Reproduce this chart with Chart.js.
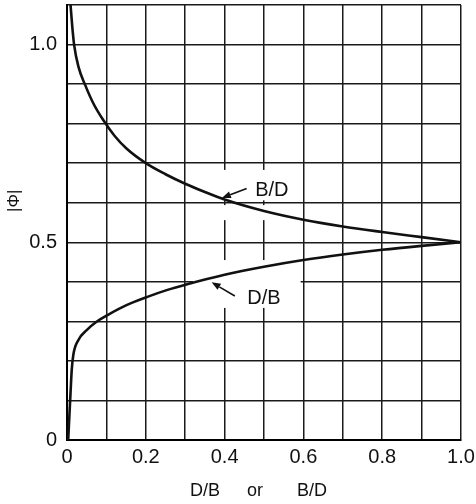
<!DOCTYPE html>
<html><head><meta charset="utf-8">
<script src="https://cdn.jsdelivr.net/npm/chart.js@4.4.1/dist/chart.umd.min.js"></script>
<style>html,body{margin:0;padding:0;background:#fff}#wrap{width:476px;height:504px}</style>
</head><body><div id="wrap"><canvas id="c" width="476" height="504"></canvas></div>
<script>
const bdX = [0.009,0.013,0.018,0.029,0.046,0.067,0.092,0.12,0.151,0.2,0.25,0.3,0.35,0.4,0.5,0.6,0.7,0.8,0.9,1.0];
const bdY = [1.1,1.05,1.0,0.944,0.898,0.851,0.809,0.77,0.737,0.700,0.672,0.648,0.627,0.608,0.579,0.557,0.540,0.526,0.513,0.5];
const dbX = [0.003,0.006,0.009,0.012,0.016,0.029,0.05,0.075,0.103,0.151,0.204,0.253,0.305,0.4,0.5,0.6,0.7,0.8,0.9,1.0];
const dbY = [0,0.06,0.12,0.177,0.215,0.253,0.278,0.299,0.316,0.341,0.362,0.379,0.394,0.418,0.438,0.455,0.469,0.481,0.491,0.5];
const xTickValues = [0,0.2,0.4,0.6,0.8,1.0];
const xTickLabels = ['0','0.2','0.4','0.6','0.8','1.0'];
const yTickValues = [0,0.5,1.0];
const yTickLabels = ['0','0.5','1.0'];
const seriesNames = ['B/D','D/B'];
const axisTitleX = ['D/B','or','B/D'];
const axisTitleY = '|\u03A6|';

const FONT = '"Liberation Sans", Arial, sans-serif';
const INK = '#111';

function pick(vals, labels, v){
  for(let i=0;i<vals.length;i++){ if(Math.abs(vals[i]-v)<1e-6) return labels[i]; }
  return '';
}

const decor = {
  id:'decor',
  beforeDatasetsDraw(chart){
    const {ctx, scales:{x,y}} = chart;
    ctx.save(); ctx.fillStyle='#fff';
    const boxes = [[0.32,0.593,0.334,0.455],[0.335,0.593,0.556,0.594],[0.335,0.593,0.606,0.683]];
    boxes.forEach(b=>{
      const x0=x.getPixelForValue(b[0]), x1=x.getPixelForValue(b[1]);
      const y0=y.getPixelForValue(b[3]), y1=y.getPixelForValue(b[2]);
      ctx.fillRect(x0,y0,x1-x0,y1-y0);
    });
    ctx.restore();
  },
  afterDatasetsDraw(chart){
    const {ctx, scales:{x,y}} = chart;
    ctx.save();
    ctx.fillStyle=INK; ctx.strokeStyle=INK;
    ctx.font='20px '+FONT;
    ctx.textAlign='center'; ctx.textBaseline='middle';
    const notes = [
      {t:seriesNames[0], tx:0.52, ty:0.632, ax:0.456, ay:0.636, hx:0.393, hy:0.612},
      {t:seriesNames[1], tx:0.50, ty:0.359, ax:0.426, ay:0.364, hx:0.367, hy:0.399}
    ];
    notes.forEach(n=>{
      ctx.fillText(n.t, x.getPixelForValue(n.tx), y.getPixelForValue(n.ty));
      const ax=x.getPixelForValue(n.ax), ay=y.getPixelForValue(n.ay);
      const hx=x.getPixelForValue(n.hx), hy=y.getPixelForValue(n.hy);
      const ang=Math.atan2(hy-ay,hx-ax);
      const L=9, W=3.5;
      const bx=hx-L*Math.cos(ang), by=hy-L*Math.sin(ang);
      ctx.lineWidth=1.6;
      ctx.beginPath(); ctx.moveTo(ax,ay); ctx.lineTo(bx,by); ctx.stroke();
      ctx.beginPath(); ctx.moveTo(hx,hy);
      ctx.lineTo(bx+W*Math.sin(ang), by-W*Math.cos(ang));
      ctx.lineTo(bx-W*Math.sin(ang), by+W*Math.cos(ang));
      ctx.closePath(); ctx.fill();
    });
    ctx.restore();
  },
  afterDraw(chart){
    const {ctx, scales:{x,y}, chartArea} = chart;
    ctx.save();
    ctx.fillStyle=INK;
    ctx.font='18px '+FONT;
    ctx.textAlign='center'; ctx.textBaseline='middle';
    const pos=[0.35,0.477,0.622];
    axisTitleX.forEach((w,i)=>{
      ctx.fillText(w, x.getPixelForValue(pos[i]), chartArea.bottom+51);
    });
    ctx.translate(14, y.getPixelForValue(0.605));
    ctx.rotate(-Math.PI/2);
    ctx.font='17px '+FONT;
    ctx.fillText(axisTitleY,0,0);
    ctx.restore();
  }
};

new Chart(document.getElementById('c'), {
  type:'line',
  data:{
    datasets:[
      {label:seriesNames[0], data:bdX.map((v,i)=>({x:v,y:bdY[i]})), borderColor:INK, borderWidth:2.6, pointRadius:0, cubicInterpolationMode:'monotone', fill:false},
      {label:seriesNames[1], data:dbX.map((v,i)=>({x:v,y:dbY[i]})), borderColor:INK, borderWidth:2.6, pointRadius:0, cubicInterpolationMode:'monotone', fill:false}
    ]
  },
  options:{
    responsive:false, animation:false, devicePixelRatio:1,
    layout:{padding:{top:5,right:15,left:0,bottom:0}},
    plugins:{legend:{display:false}, tooltip:{enabled:false}},
    scales:{
      x:{type:'linear', min:0, max:1.0,
        ticks:{stepSize:0.1, autoSkip:false, maxRotation:0, padding:5, color:INK, font:{family:FONT,size:20},
          callback:(v)=>pick(xTickValues,xTickLabels,v)},
        grid:{color:'#1a1a1a', lineWidth:1.5, drawTicks:false},
        border:{display:true, color:'#000', width:2},
        afterFit:(s)=>{s.height=64; s.paddingLeft=0; s.paddingRight=0;}
      },
      y:{type:'linear', min:0, max:1.1,
        ticks:{stepSize:0.1, autoSkip:false, padding:10, color:INK, font:{family:FONT,size:20},
          callback:(v)=>pick(yTickValues,yTickLabels,v)},
        grid:{color:'#1a1a1a', lineWidth:1.5, drawTicks:false},
        border:{display:true, color:'#000', width:2},
        afterFit:(s)=>{s.width=67; s.paddingTop=0; s.paddingBottom=0;}
      }
    }
  },
  plugins:[decor]
});
</script></body></html>
